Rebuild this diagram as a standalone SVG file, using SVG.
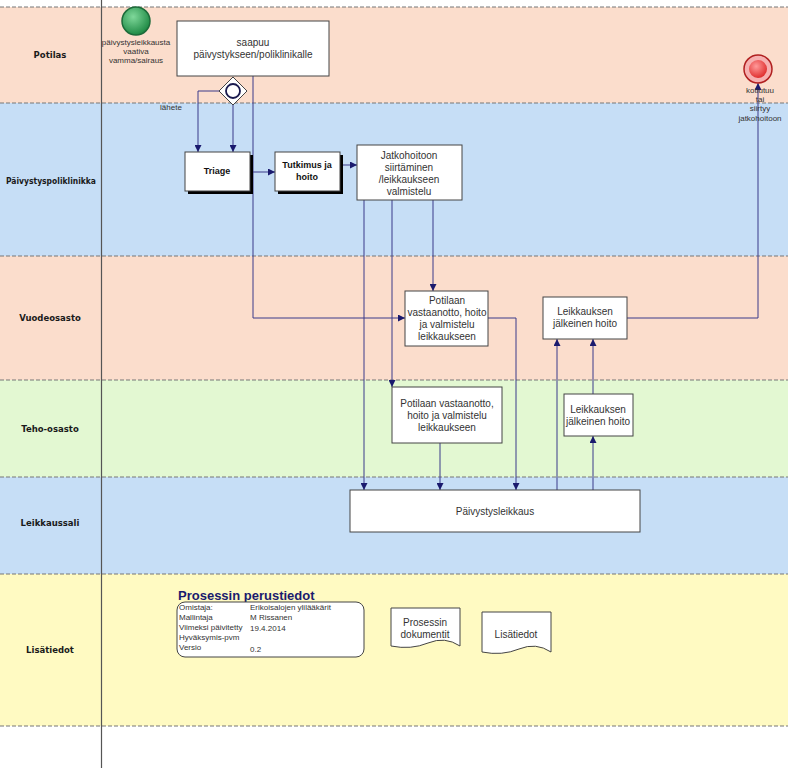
<svg xmlns="http://www.w3.org/2000/svg" width="788" height="768" viewBox="0 0 788 768">
<style>
.lane{stroke:none}
.sep{stroke:#777;stroke-width:1;stroke-dasharray:4,2;fill:none}
.ll{font-family:Verdana,"DejaVu Sans",sans-serif;font-size:8.5px;font-weight:bold;fill:#1a1a1a;text-anchor:middle}
.box{fill:#fff;stroke:#444;stroke-width:1}
.t{font-family:"Liberation Sans",Arial,sans-serif;font-size:10px;fill:#333;text-anchor:middle}
.ts{font-family:"Liberation Sans",Arial,sans-serif;font-size:8px;fill:#333;text-anchor:middle}
.tb{font-family:"Liberation Sans",Arial,sans-serif;font-size:9px;font-weight:bold;fill:#111;text-anchor:middle}
.c{fill:none;stroke:#3a3a8a;stroke-width:1}
.tab{font-family:"Liberation Sans",Arial,sans-serif;font-size:8px;fill:#333}
</style>
<defs>
<marker id="ah" viewBox="0 0 10 10" refX="10" refY="5" markerWidth="7" markerHeight="7" orient="auto" markerUnits="userSpaceOnUse">
<path d="M0,0 L10,5 L0,10 z" fill="#1a1a6e"/>
</marker>
<radialGradient id="gS" cx="40%" cy="35%" r="65%"><stop offset="0" stop-color="#7fd89a"/><stop offset="1" stop-color="#1f8a45"/></radialGradient>
<radialGradient id="gE" cx="40%" cy="35%" r="65%"><stop offset="0" stop-color="#ff9a9a"/><stop offset="1" stop-color="#e03030"/></radialGradient>
</defs>
<rect x="0" y="0" width="788" height="768" fill="#fff"/>
<g id="lanes">
<rect class="lane" x="0" y="7" width="788" height="96" fill="#FBDDCC"/>
<rect class="lane" x="0" y="103" width="788" height="153" fill="#C6DEF6"/>
<rect class="lane" x="0" y="256" width="788" height="124" fill="#FBDDCC"/>
<rect class="lane" x="0" y="380" width="788" height="97" fill="#E3F8D2"/>
<rect class="lane" x="0" y="477" width="788" height="97" fill="#C6DEF6"/>
<rect class="lane" x="0" y="574" width="788" height="152" fill="#FFFAC2"/>
<path class="sep" d="M0,7H788M0,103H788M0,256H788M0,380H788M0,477H788M0,574H788M0,726H788"/>
<line x1="101.5" y1="0" x2="101.5" y2="768" stroke="#555" stroke-width="1.2"/>
<text class="ll" x="50" y="58">Potilas</text>
<text class="ll" x="51" y="184" textLength="90" lengthAdjust="spacingAndGlyphs">Päivystyspoliklinikka</text>
<text class="ll" x="50" y="321">Vuodeosasto</text>
<text class="ll" x="50" y="432">Teho-osasto</text>
<text class="ll" x="50" y="526">Leikkaussali</text>
<text class="ll" x="50" y="653">Lisätiedot</text>
</g>
<g id="connectors">
<path class="c" d="M219,91H198V152" marker-end="url(#ah)"/>
<path class="c" d="M233,105V152" marker-end="url(#ah)"/>
<path class="c" d="M253,76V318H405" marker-end="url(#ah)"/>
<path class="c" d="M250,172H275" marker-end="url(#ah)"/>
<path class="c" d="M340,165H357" marker-end="url(#ah)"/>
<path class="c" d="M364,200V490" marker-end="url(#ah)"/>
<path class="c" d="M392,200V387" marker-end="url(#ah)"/>
<path class="c" d="M433,200V291" marker-end="url(#ah)"/>
<path class="c" d="M488,318H516V490" marker-end="url(#ah)"/>
<path class="c" d="M440,443V490" marker-end="url(#ah)"/>
<path class="c" d="M557,490V339" marker-end="url(#ah)"/>
<path class="c" d="M593,490V436" marker-end="url(#ah)"/>
<path class="c" d="M593,394V339" marker-end="url(#ah)"/>
<path class="c" d="M627,318H758V83" marker-end="url(#ah)"/>
<text class="ts" x="171" y="110">lähete</text>
</g>
<g id="start">
<circle cx="136" cy="21" r="14" fill="url(#gS)" stroke="#1d6b3a" stroke-width="1.5"/>
<text class="ts" x="136" y="45">päivystysleikkausta</text>
<text class="ts" x="136" y="54">vaativa</text>
<text class="ts" x="136" y="63">vamma/sairaus</text>
</g>
<g id="saapuu">
<rect class="box" x="177" y="21" width="152" height="55"/>
<text class="t" x="253" y="46">saapuu</text>
<text class="t" x="253" y="58">päivystykseen/poliklinikalle</text>
</g>
<g id="gateway">
<path d="M233,77L247,91L233,105L219,91Z" fill="#fff" stroke="#444"/>
<circle cx="233" cy="91" r="7" fill="none" stroke="#1a1a4e" stroke-width="1.8"/>
</g>
<g id="triage">
<rect x="188" y="155" width="65" height="39" fill="#000"/>
<rect class="box" x="185" y="152" width="65" height="39"/>
<text class="tb" x="217" y="174">Triage</text>
</g>
<g id="tutkimus">
<rect x="278" y="155" width="65" height="39" fill="#000"/>
<rect class="box" x="275" y="152" width="65" height="39"/>
<text class="tb" x="307" y="168">Tutkimus ja</text>
<text class="tb" x="307" y="180">hoito</text>
</g>
<g id="jatkohoitoon">
<rect class="box" x="357" y="145" width="105" height="55"/>
<text class="t" x="409" y="159">Jatkohoitoon</text>
<text class="t" x="409" y="171">siirtäminen</text>
<text class="t" x="409" y="183">/leikkaukseen</text>
<text class="t" x="409" y="195">valmistelu</text>
</g>
<g id="potilaan-vuode">
<rect class="box" x="405" y="291" width="83" height="55"/>
<text class="t" x="447" y="304">Potilaan</text>
<text class="t" x="447" y="316">vastaanotto, hoito</text>
<text class="t" x="447" y="328">ja valmistelu</text>
<text class="t" x="447" y="340">leikkaukseen</text>
</g>
<g id="leik-vuode">
<rect class="box" x="543" y="297" width="84" height="42"/>
<text class="t" x="585" y="315">Leikkauksen</text>
<text class="t" x="585" y="327">jälkeinen hoito</text>
</g>
<g id="potilaan-teho">
<rect class="box" x="392" y="387" width="110" height="56"/>
<text class="t" x="447" y="407">Potilaan vastaanotto,</text>
<text class="t" x="447" y="419">hoito  ja valmistelu</text>
<text class="t" x="447" y="431">leikkaukseen</text>
</g>
<g id="leik-teho">
<rect class="box" x="564" y="394" width="69" height="42"/>
<text class="t" x="598" y="413">Leikkauksen</text>
<text class="t" x="598" y="425">jälkeinen hoito</text>
</g>
<g id="paivystysleikkaus">
<rect class="box" x="350" y="490" width="290" height="42"/>
<text class="t" x="495" y="515">Päivystysleikkaus</text>
</g>
<g id="end">
<circle cx="758" cy="69" r="14" fill="#f6b0b0" stroke="#b02020" stroke-width="1.5"/>
<circle cx="758" cy="69" r="9" fill="url(#gE)"/>
<text class="ts" x="760" y="93">kotiutuu</text>
<text class="ts" x="760" y="102">tai</text>
<text class="ts" x="760" y="111">siirtyy</text>
<text class="ts" x="760" y="121">jatkohoitoon</text>
</g>
<g id="perustiedot">
<text x="178" y="600" font-family="'Liberation Sans',Arial,sans-serif" font-size="13" font-weight="bold" fill="#1a1a6e">Prosessin perustiedot</text>
<rect x="177" y="602" width="187" height="55" rx="8" fill="#fff" stroke="#444"/>
<text class="tab" x="179" y="610">Omistaja:</text><text class="tab" x="250" y="610">Erikoisalojen ylilääkärit</text>
<text class="tab" x="179" y="620">Mallintaja</text><text class="tab" x="250" y="620">M Rissanen</text>
<text class="tab" x="179" y="630">Viimeksi päivitetty</text><text class="tab" x="250" y="631">19.4.2014</text>
<text class="tab" x="179" y="640">Hyväksymis-pvm</text>
<text class="tab" x="179" y="650">Versio</text><text class="tab" x="250" y="652">0.2</text>
</g>
<g id="dokumentit">
<path d="M391,608H460V646Q445,636 428,643T391,646Z" fill="#fff" stroke="#444"/>
<text class="t" x="425" y="626">Prosessin</text>
<text class="t" x="425" y="638">dokumentit</text>
</g>
<g id="lisatiedot">
<path d="M482,612H551V652Q536,642 519,649T482,652Z" fill="#fff" stroke="#444"/>
<text class="t" x="516" y="638">Lisätiedot</text>
</g>
</svg>
